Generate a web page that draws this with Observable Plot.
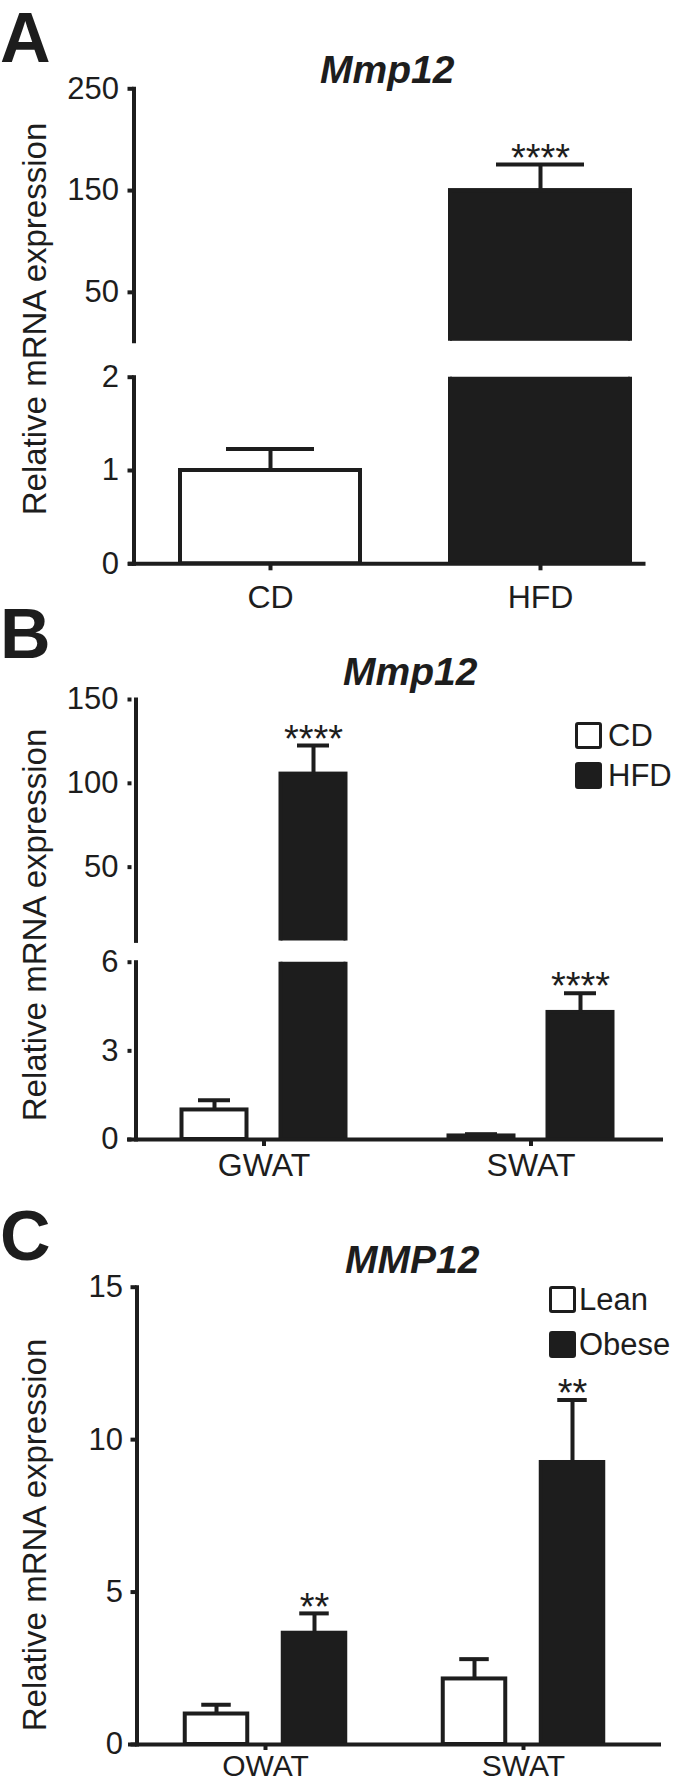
<!DOCTYPE html>
<html>
<head>
<meta charset="utf-8">
<script src="https://cdn.jsdelivr.net/npm/d3@7"></script>
<script src="https://cdn.jsdelivr.net/npm/@observablehq/plot@0.6"></script>
<style>
  html, body { margin: 0; padding: 0; background: #fff; overflow: hidden; }
  #fig { position: relative; width: 677px; height: 1782px; font-family: 'Liberation Sans', Arial, Helvetica, sans-serif; color: #1d1d1d; }
  .abs { position: absolute; line-height: 1; white-space: nowrap; }
  .letter { font-weight: bold; font-size: 70px; line-height: 0.85; }
  .title { font-weight: bold; font-style: italic; font-size: 39px; }
  .ytitle { font-size: 33px; transform: translate(-50%, -50%) rotate(-90deg); }
  .lg { display: flex; align-items: center; font-size: 31px; }
  .sw { width: 27px; height: 27px; box-sizing: border-box; border: 3.5px solid #1d1d1d; border-radius: 3px; }
</style>
</head>
<body>
<div id="fig"></div>
<script>
// ---------- data ----------
// Panel A: Mmp12, CD vs HFD
const aCategories = ["CD", "HFD"];
const aMean = [1.0, 150];
const aSem = [0.23, 25.5];
const aStars = ["", "****"];
const aUpperTicks = [50, 150, 250];
const aLowerTicks = [0, 1, 2];
const aUpperDomain = [2, 250];
const aLowerDomain = [0, 2];

// Panel B: Mmp12 in GWAT / SWAT, CD vs HFD
const bGroups = ["GWAT", "SWAT"];
const bSeries = ["CD", "HFD"];
const bGroup = ["GWAT", "GWAT", "SWAT", "SWAT"];
const bDiet = ["CD", "HFD", "CD", "HFD"];
const bMean = [1.0, 105.5, 0.12, 4.3];
const bSem = [0.33, 17, 0.06, 0.65];
const bStars = ["", "****", "", "****"];
const bUpperTicks = [50, 100, 150];
const bLowerTicks = [0, 3, 6];
const bUpperDomain = [6, 150];
const bLowerDomain = [0, 6];

// Panel C: MMP12 in OWAT / SWAT, Lean vs Obese
const cGroups = ["OWAT", "SWAT"];
const cSeries = ["Lean", "Obese"];
const cGroup = ["OWAT", "OWAT", "SWAT", "SWAT"];
const cStatus = ["Lean", "Obese", "Lean", "Obese"];
const cMean = [1.0, 3.65, 2.15, 9.25];
const cSem = [0.3, 0.65, 0.65, 2.05];
const cStars = ["", "**", "", "**"];
const cTicks = [0, 5, 10, 15];
const cDomain = [0, 15];

const yTitle = "Relative mRNA expression";

// ---------- helpers ----------
const INK = "#1d1d1d";
const FONT = "'Liberation Sans', Arial, Helvetica, sans-serif";
const fig = document.getElementById("fig");

function addText(cls, text, left, top, extra = {}) {
  const el = document.createElement("div");
  el.className = "abs " + cls;
  el.textContent = text;
  el.style.left = left + "px";
  el.style.top = top + "px";
  Object.assign(el.style, extra);
  fig.appendChild(el);
  return el;
}

function addLegend(items, left, tops, gap) {
  items.forEach(([label, fill], i) => {
    const row = document.createElement("div");
    row.className = "abs lg";
    row.style.left = left + "px";
    row.style.top = tops[i] + "px";
    const sw = document.createElement("div");
    sw.className = "sw";
    sw.style.background = fill;
    sw.style.marginRight = gap + "px";
    const t = document.createElement("span");
    t.textContent = label;
    row.appendChild(sw);
    row.appendChild(t);
    fig.appendChild(row);
  });
}

function segment(cfg) {
  const {rows, groups, offsets, barW, capW, xRange, yDomain, ticks, top, frameTop, frameBottom,
         bottom, marginLeft, xAxisStart, xAxisEnd, tick, showX, xTick, xFont, fillDomain, fillRange} = cfg;
  const bw = (xRange[1] - xRange[0]) / groups.length;
  const [lo, hi] = yDomain;
  const marks = [];
  for (const [s, off] of Object.entries(offsets)) {
    const d = rows.filter(r => r.series === s);
    const ins = w => ({insetLeft: bw / 2 + off - w / 2, insetRight: bw / 2 - off - w / 2});
    const vis = d.filter(r => r.mean > lo);                 // bars reaching into this segment
    const errVis = d.filter(r => r.mean + r.sem > lo && r.mean < hi);
    marks.push(Plot.barY(vis, {x: "group", y: "mean", fill: "series", stroke: INK, strokeWidth: 4, ...ins(barW), clip: true}));
    marks.push(Plot.ruleX(errVis, {x: "group", y1: "mean", y2: r => r.mean + r.sem, dx: off, stroke: INK, strokeWidth: 4, clip: true}));
    marks.push(Plot.tickY(errVis, {x: "group", y: r => r.mean + r.sem, ...ins(capW), stroke: INK, strokeWidth: 4, clip: true}));
    marks.push(Plot.text(d.filter(r => r.stars && r.mean + r.sem > lo && r.mean + r.sem < hi),
      {x: "group", y: r => r.mean + r.sem, text: "stars", dx: off, dy: -6, lineAnchor: "middle", fontSize: 38, fill: INK}));
  }
  marks.push(Plot.frame({anchor: "left", stroke: INK, strokeWidth: 4}));
  marks.push(Plot.axisY({ticks, tickFormat: d3.format("d"), tickSize: tick.size, tickPadding: tick.pad, dx: tick.dx, fontSize: 31,
    stroke: INK, strokeWidth: 4, fill: INK, label: null}));
  if (showX) {
    marks.push(Plot.ruleY([0], {stroke: INK, strokeWidth: 4, insetLeft: xAxisStart - marginLeft}));
    marks.push(Plot.axisX({tickSize: xTick.size, tickPadding: xTick.pad, fontSize: xFont, stroke: INK, strokeWidth: 4, fill: INK, label: null}));
  }
  const svg = Plot.plot({
    width: 677,
    height: bottom - top,
    marginTop: frameTop - top,
    marginBottom: bottom - frameBottom,
    marginLeft,
    marginRight: 677 - xAxisEnd,
    x: {domain: groups, range: xRange, padding: 0, axis: null},
    y: {domain: yDomain, axis: null},
    color: {domain: fillDomain, range: fillRange},
    style: {background: "transparent", overflow: "visible", fontFamily: FONT, color: INK},
    marks
  });
  svg.style.position = "absolute";
  svg.style.left = "0px";
  svg.style.top = top + "px";
  fig.appendChild(svg);
}

// ---------- Panel A ----------
const aRows = aCategories.map((c, i) => ({group: c, series: c, mean: aMean[i], sem: aSem[i], stars: aStars[i]}));
const aCommon = {
  rows: aRows, groups: aCategories, offsets: {CD: 0, HFD: 0}, barW: 180, capW: 88,
  xRange: [134.5, 674.5], marginLeft: 133.5, xAxisStart: 128, xAxisEnd: 645.5,
  tick: {size: 6, pad: 9, dx: 0}, xTick: {size: 7, pad: 14}, xFont: 32,
  fillDomain: aCategories, fillRange: ["#ffffff", INK]
};
segment({...aCommon, yDomain: aUpperDomain, ticks: aUpperTicks, top: 40, frameTop: 88.3, frameBottom: 340.7, bottom: 346, showX: false});
segment({...aCommon, yDomain: aLowerDomain, ticks: aLowerTicks, top: 350, frameTop: 376.7, frameBottom: 563.3, bottom: 625, showX: true});

// ---------- Panel B ----------
const bRows = bGroup.map((g, i) => ({group: g, series: bDiet[i], mean: bMean[i], sem: bSem[i], stars: bStars[i]}));
const bCommon = {
  rows: bRows, groups: bGroups, offsets: {CD: -49.5, HFD: 49.5}, barW: 65, capW: 32,
  xRange: [129.5, 663.5], marginLeft: 135.5, xAxisStart: 127, xAxisEnd: 663,
  tick: {size: 4, pad: 9.5, dx: -4}, xTick: {size: 7, pad: 7}, xFont: 32,
  fillDomain: bSeries, fillRange: ["#ffffff", INK]
};
segment({...bCommon, yDomain: bUpperDomain, ticks: bUpperTicks, top: 680, frameTop: 699, frameBottom: 940.4, bottom: 942, showX: false});
segment({...bCommon, yDomain: bLowerDomain, ticks: bLowerTicks, top: 944, frameTop: 961.7, frameBottom: 1139, bottom: 1190, showX: true});

// ---------- Panel C ----------
const cRows = cGroup.map((g, i) => ({group: g, series: cStatus[i], mean: cMean[i], sem: cSem[i], stars: cStars[i]}));
segment({
  rows: cRows, groups: cGroups, offsets: {Lean: -49, Obese: 49}, barW: 63, capW: 30,
  xRange: [135.75, 652.75], marginLeft: 136.5, xAxisStart: 128, xAxisEnd: 661,
  tick: {size: 6, pad: 8, dx: 0}, xTick: {size: 6, pad: 4}, xFont: 30,
  fillDomain: cSeries, fillRange: ["#ffffff", INK],
  yDomain: cDomain, ticks: cTicks, top: 1262, frameTop: 1286.7, frameBottom: 1744, bottom: 1782, showX: true
});

// ---------- text overlays ----------
addText("letter", "A", 0, 9);
addText("letter", "B", 0, 605);
addText("letter", "C", 0, 1207);
addText("title", "Mmp12", 320, 50);
addText("title", "Mmp12", 343, 652);
addText("title", "MMP12", 345, 1240);
addText("ytitle", yTitle, 34, 318.6);
addText("ytitle", yTitle, 34, 925);
addText("ytitle", yTitle, 34, 1535);
addLegend([[bSeries[0], "#ffffff"], [bSeries[1], INK]], 575, [719.5, 760], 6);
addLegend([[cSeries[0], "#ffffff"], [cSeries[1], INK]], 549, [1283.5, 1328.5], 3);
</script>
</body>
</html>
